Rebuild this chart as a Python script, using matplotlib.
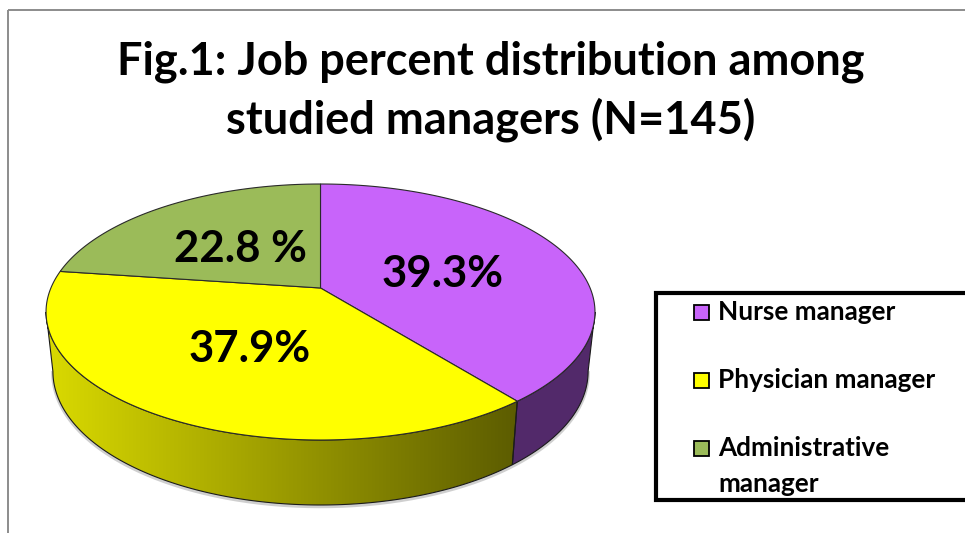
import numpy as np
import matplotlib
matplotlib.use('Agg')
import matplotlib.pyplot as plt
from matplotlib.patches import Polygon, Rectangle

# ---------------- data ----------------
categories = ['Nurse manager', 'Physician manager', 'Administrative\nmanager']
percent = [39.3, 37.9, 22.8]
value_labels = ['39.3%', '37.9%', '22.8 %']
title_lines = ['Fig.1: Job percent distribution among', 'studied managers (N=145)']

# ---------------- style ----------------
top_colors = ['#C864FA', '#FFFF00', '#9BBB59']
side_colors = ['#52296A', None, '#5E7535']
label_pos = [(443, 274), (250, 349), (240, 249)]
FONT = 'Lato'

W, H = 965, 533
fig = plt.figure(figsize=(W / 100, H / 100), dpi=100)
ax = fig.add_axes([0, 0, 1, 1])
ax.set_xlim(0, W)
ax.set_ylim(H, 0)
ax.axis('off')

# perspective parameters of the pie disc
cx, cy, A, B, k = 320.5, 288.0, 269.6, 123.5, 0.1875
shrink = 0.975


def top(theta):
    t = np.radians(theta)
    u, v = np.sin(t), -np.cos(t)
    w = 1 - k * v
    return cx + A * u / w, cy + B * v / w


def bottom(theta):
    x, y = top(theta)
    v = -np.cos(np.radians(theta))
    h = 58 + 7 * np.clip(v, 0, None)
    return cx + (x - cx) * shrink, y + h


fracs = np.array(percent) / np.sum(percent)
bounds = np.concatenate([[0], np.cumsum(fracs) * 360])

s1 = np.degrees(np.arccos(-k))
s2 = 360 - s1

# faint shadow under the pie
thb = np.linspace(s1, s2, 300)
xb, yb = bottom(thb)
ax.plot(xb, yb + 1.5, color='#b0b0b0', lw=2.5, alpha=0.6, zorder=0.5)

# side faces
for i in range(len(percent)):
    a0, a1 = max(bounds[i], s1), min(bounds[i + 1], s2)
    if a1 <= a0:
        continue
    th = np.linspace(a0, a1, 200)
    xt, yt = top(th)
    xb, yb = bottom(th[::-1])
    pts = np.column_stack([np.concatenate([xt, xb]), np.concatenate([yt, yb])])
    if side_colors[i] is None:
        poly = Polygon(pts, closed=True, facecolor='none', edgecolor='none')
        ax.add_patch(poly)
        xs = np.linspace(0, 1, 256)
        c0 = np.array([218, 218, 0]) / 255
        c1 = np.array([92, 92, 0]) / 255
        grad = (c0[None, :] * (1 - xs[:, None]) + c1[None, :] * xs[:, None])[None, :, :]
        im = ax.imshow(grad, extent=[pts[:, 0].min(), pts[:, 0].max(),
                                     pts[:, 1].max(), pts[:, 1].min()],
                       aspect='auto', interpolation='bilinear', zorder=1)
        im.set_clip_path(poly)
        ax.add_patch(Polygon(pts, closed=True, facecolor='none',
                             edgecolor='#1a1a1a', lw=0.8, zorder=2))
    else:
        ax.add_patch(Polygon(pts, closed=True, facecolor=side_colors[i],
                             edgecolor='#1a1a1a', lw=0.8, zorder=2))

# top faces
for i in range(len(percent)):
    th = np.linspace(bounds[i], bounds[i + 1], 300)
    xt, yt = top(th)
    pts = np.column_stack([np.concatenate([[cx], xt]), np.concatenate([[cy], yt])])
    ax.add_patch(Polygon(pts, closed=True, facecolor=top_colors[i],
                         edgecolor='#2a2a2a', lw=0.8, zorder=3))

for (x, y), s in zip(label_pos, value_labels):
    ax.text(x, y, s, ha='center', va='center', fontsize=31.5,
            fontweight='bold', family=FONT, color='black', zorder=5)

# title
for yy, line in zip([62, 120], title_lines):
    ax.text(491, yy, line, ha='center', va='center', fontsize=32.5,
            fontweight='bold', family=FONT, color='black')

# chart frame (top and left visible)
ax.plot([8, W + 5], [10, 10], color='#8c8c8c', lw=1.4, solid_capstyle='butt')
ax.plot([8, 8], [10, H + 5], color='#8c8c8c', lw=1.4, solid_capstyle='butt')

# legend
ax.add_patch(Rectangle((656, 293), 340, 207, facecolor='white',
                       edgecolor='black', lw=3, zorder=6, clip_on=False))
leg_y = [312, 380, 448]
for i, cat in enumerate(categories):
    ax.add_patch(Rectangle((694, leg_y[i] - 7.5), 15, 15, facecolor=top_colors[i],
                           edgecolor='black', lw=1.3, zorder=7))
    for j, part in enumerate(cat.split('\n')):
        ax.text(718, leg_y[i] + 35.5 * j, part, ha='left', va='center',
                fontsize=18.8, fontweight='bold', family=FONT, zorder=7)

fig.savefig('out.png', dpi=100)
